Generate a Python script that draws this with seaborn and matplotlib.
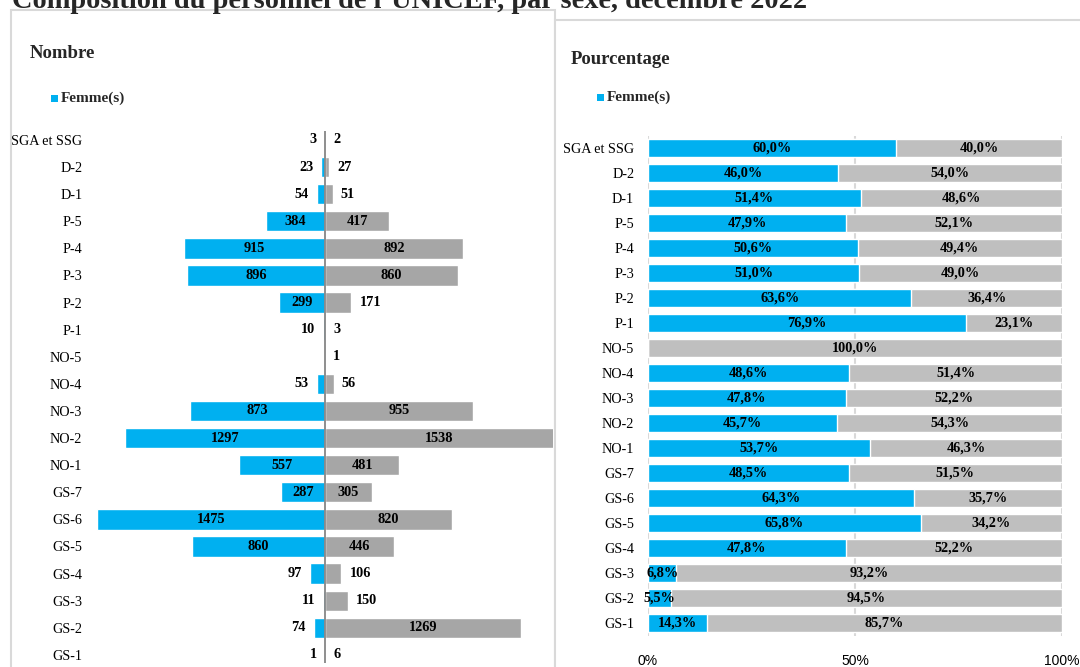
import matplotlib
matplotlib.use("Agg")
import matplotlib.pyplot as plt
from matplotlib.patches import Rectangle
import seaborn as sns
import pandas as pd
import numpy as np

grades = ["SGA et SSG", "D-2", "D-1", "P-5", "P-4", "P-3", "P-2", "P-1",
          "NO-5", "NO-4", "NO-3", "NO-2", "NO-1", "GS-7", "GS-6", "GS-5",
          "GS-4", "GS-3", "GS-2", "GS-1"]
femmes = [3, 23, 54, 384, 915, 896, 299, 10, 0, 53, 873, 1297, 557, 287,
          1475, 860, 97, 11, 74, 1]
hommes = [2, 27, 51, 417, 892, 860, 171, 3, 1, 56, 955, 1538, 481, 305,
          820, 446, 106, 150, 1269, 6]
pct_ticks = [0, 50, 100]
pct_ticklabels = ["0%", "50%", "100%"]

title = "Composition du personnel de l\u2019UNICEF, par sexe, décembre 2022"
left_title = "Nombre"
right_title = "Pourcentage"
legend_label = "Femme(s)"

BLUE = "#00B0F0"
GREY_L = "#A6A6A6"
GREY_R = "#BFBFBF"
FRAME = "#D9D9D9"

sns.set_theme(style="white")
plt.rcParams["font.family"] = ["Liberation Serif", "DejaVu Serif"]

df = pd.DataFrame({"grade": grades, "femmes": femmes, "hommes": hommes})
df["f_neg"] = -df["femmes"]
df["total"] = df["femmes"] + df["hommes"]
df["f_pct"] = df["femmes"] / df["total"] * 100
df["h_pct"] = df["hommes"] / df["total"] * 100
df["full"] = df["f_pct"] + df["h_pct"]

W, H = 1080, 667
fig = plt.figure(figsize=(W / 100, H / 100), dpi=100)
fig.patch.set_facecolor("white")

def fx(px):
    return px / W

def fy(py):
    return 1 - py / H

VAL_FS = 10.3
TICK_FS = 10.2

# panel frames
fig.patches.append(Rectangle((fx(11), fy(700)), fx(555) - fx(11), fy(10) - fy(700),
                             transform=fig.transFigure, fill=False,
                             edgecolor=FRAME, linewidth=1.5, zorder=0))
fig.patches.append(Rectangle((fx(555), fy(700)), fx(1090) - fx(555), fy(20) - fy(700),
                             transform=fig.transFigure, fill=True, facecolor="white",
                             edgecolor=FRAME, linewidth=1.5, zorder=0.5))

# title (partially clipped at top, as in reference)
fig.text(fx(12), fy(8), title, fontsize=20.4, fontweight="bold",
         va="baseline", ha="left")

# ---------------- left panel: counts ----------------
L, R, T, B = 92, 553, 131, 663
ax1 = fig.add_axes([fx(L), fy(B), (R - L) / W, (B - T) / H])
ax1.set_facecolor("none")
scale = 0.1545
xl, xr = -(325 - L) / scale, (R - 325) / scale
sns.barplot(data=df, x="f_neg", y="grade", orient="h", color=BLUE,
            saturation=1, width=0.75, errorbar=None, ax=ax1)
sns.barplot(data=df, x="hommes", y="grade", orient="h", color=GREY_L,
            saturation=1, width=0.75, errorbar=None, ax=ax1)
ax1.set_xlim(xl, xr)
ax1.set_ylim(19.3, -0.33)
ax1.axvline(0, color="#868686", linewidth=1.3, zorder=5)
for s in ax1.spines.values():
    s.set_visible(False)
ax1.set_xticks([])
ax1.set_xlabel("")
ax1.set_ylabel("")
ax1.tick_params(axis="y", length=0, pad=7, labelsize=TICK_FS, labelcolor="black")
for lab in ax1.get_yticklabels():
    lab.set_fontfamily(["Liberation Serif"])

gap = 8 / scale
thr = 200
for i, (f, h) in enumerate(zip(femmes, hommes)):
    if f > 0:
        if f >= thr:
            ax1.text(-f / 2, i, str(f), ha="center", va="center",
                     fontsize=VAL_FS, fontweight="bold", color="black", zorder=6)
        else:
            ax1.text(-f - gap, i, str(f), ha="right", va="center",
                     fontsize=VAL_FS, fontweight="bold", color="black", zorder=6)
    if h > 0:
        if h >= thr:
            ax1.text(min(h, xr) / 2, i, str(h), ha="center", va="center",
                     fontsize=VAL_FS, fontweight="bold", color="black", zorder=6)
        else:
            ax1.text(h + gap, i, str(h), ha="left", va="center",
                     fontsize=VAL_FS, fontweight="bold", color="black", zorder=6)

fig.text(fx(30), fy(53), left_title, fontsize=13.5, fontweight="bold",
         va="center", ha="left")
fig.patches.append(Rectangle((fx(51), fy(101.5)), 7 / W, 7 / H,
                             transform=fig.transFigure, facecolor=BLUE,
                             edgecolor="none", zorder=3))
fig.text(fx(61), fy(98), legend_label, fontsize=11, fontweight="bold",
         va="center", ha="left")

# ---------------- right panel: percentages ----------------
L2, R2, T2, B2 = 648, 1062, 135.5, 635.5
ax2 = fig.add_axes([fx(L2), fy(B2), (R2 - L2) / W, (B2 - T2) / H], zorder=2)
ax2.set_facecolor("none")
sns.barplot(data=df, x="full", y="grade", orient="h", color=GREY_R,
            saturation=1, width=0.7, errorbar=None, ax=ax2, zorder=3)
sns.barplot(data=df, x="f_pct", y="grade", orient="h", color=BLUE,
            saturation=1, width=0.7, errorbar=None, ax=ax2, zorder=3)
ax2.set_xlim(0, 100)
ax2.set_ylim(19.5, -0.5)
for s in ax2.spines.values():
    s.set_visible(False)
for xv in pct_ticks:
    ax2.axvline(xv, color=FRAME, linewidth=1.5, zorder=1)
ax2.set_xticks(pct_ticks)
ax2.set_xticklabels(pct_ticklabels, fontfamily=["Liberation Sans"], fontsize=10)
ax2.set_xlabel("")
ax2.set_ylabel("")
ax2.tick_params(axis="x", length=0, pad=13, labelcolor="black")
ax2.tick_params(axis="y", length=0, pad=10, labelsize=TICK_FS, labelcolor="black")
for lab in ax2.get_yticklabels():
    lab.set_fontfamily(["Liberation Serif"])

def fmt(v):
    return f"{v:.1f}".replace(".", ",") + "%"

for i, (fp, hp) in enumerate(zip(df["f_pct"], df["h_pct"])):
    if fp > 0:
        ax2.text(fp / 2, i, fmt(fp), ha="center", va="center", fontsize=VAL_FS,
                 fontweight="bold", color="black", zorder=6)
    if hp > 0:
        ax2.text(fp + hp / 2, i, fmt(hp), ha="center", va="center", fontsize=VAL_FS,
                 fontweight="bold", color="black", zorder=6)

fig.text(fx(571), fy(60), right_title, fontsize=13.5, fontweight="bold",
         va="center", ha="left", zorder=3)
fig.patches.append(Rectangle((fx(597), fy(100.5)), 7 / W, 7 / H,
                             transform=fig.transFigure, facecolor=BLUE,
                             edgecolor="none", zorder=3))
fig.text(fx(607), fy(97), legend_label, fontsize=11, fontweight="bold",
         va="center", ha="left", zorder=3)

fig.savefig("out.png", dpi=100, facecolor="white")
